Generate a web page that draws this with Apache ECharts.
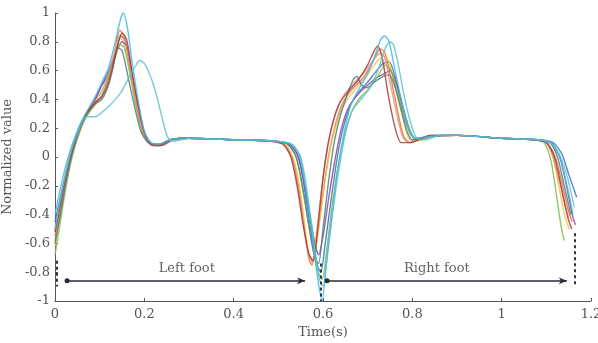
<!DOCTYPE html>
<html>
<head>
<meta charset="utf-8">
<script src="https://cdn.jsdelivr.net/npm/echarts@6/dist/echarts.min.js"></script>
<style>
  html, body { margin: 0; padding: 0; background: #fff; }
  #chart { width: 598px; height: 343px; }
</style>
</head>
<body>
<div id="chart"></div>
<script>
// 每条曲线：[时间(s), 归一化值]
const blueCurve = [[0,-0.45],[0.012,-0.28],[0.025,-0.1],[0.04,0.08],[0.055,0.21],[0.07,0.3],[0.09,0.4],[0.105,0.5],[0.12,0.6],[0.135,0.72],[0.148,0.84],[0.158,0.8],[0.17,0.6],[0.185,0.36],[0.2,0.16],[0.215,0.09],[0.235,0.09],[0.26,0.12],[0.3,0.13],[0.4,0.12],[0.49,0.11],[0.525,0.09],[0.545,0.0],[0.56,-0.25],[0.575,-0.55],[0.588,-0.76],[0.595,-0.8],[0.605,-0.6],[0.618,-0.3],[0.632,0.0],[0.645,0.2],[0.66,0.35],[0.68,0.45],[0.7,0.52],[0.72,0.6],[0.735,0.65],[0.748,0.66],[0.762,0.55],[0.778,0.36],[0.795,0.18],[0.81,0.12],[0.84,0.15],[0.9,0.15],[1.0,0.13],[1.08,0.12],[1.115,0.1],[1.135,0.02],[1.15,-0.12],[1.168,-0.28]];
const orangeCurve = [[0,-0.55],[0.012,-0.35],[0.025,-0.15],[0.04,0.05],[0.055,0.19],[0.07,0.29],[0.09,0.37],[0.105,0.42],[0.12,0.55],[0.133,0.72],[0.145,0.88],[0.155,0.84],[0.167,0.65],[0.18,0.42],[0.195,0.2],[0.21,0.1],[0.23,0.08],[0.26,0.12],[0.3,0.13],[0.4,0.12],[0.48,0.11],[0.51,0.09],[0.53,0.0],[0.545,-0.2],[0.558,-0.48],[0.568,-0.7],[0.575,-0.75],[0.585,-0.6],[0.6,-0.25],[0.615,0.05],[0.63,0.25],[0.645,0.38],[0.665,0.47],[0.69,0.55],[0.71,0.65],[0.728,0.75],[0.738,0.73],[0.75,0.58],[0.765,0.35],[0.78,0.15],[0.795,0.1],[0.82,0.13],[0.9,0.15],[1.0,0.13],[1.07,0.12],[1.1,0.1],[1.12,0.0],[1.135,-0.18],[1.15,-0.38],[1.158,-0.45]];
const yellowCurve = [[0,-0.62],[0.012,-0.4],[0.025,-0.18],[0.04,0.04],[0.055,0.18],[0.07,0.28],[0.09,0.36],[0.105,0.42],[0.12,0.55],[0.132,0.7],[0.143,0.83],[0.153,0.8],[0.165,0.62],[0.178,0.4],[0.195,0.18],[0.21,0.1],[0.23,0.09],[0.26,0.12],[0.3,0.13],[0.4,0.12],[0.48,0.11],[0.515,0.09],[0.535,-0.02],[0.55,-0.25],[0.562,-0.55],[0.57,-0.7],[0.577,-0.72],[0.588,-0.55],[0.603,-0.2],[0.618,0.08],[0.635,0.28],[0.65,0.38],[0.67,0.46],[0.695,0.55],[0.715,0.64],[0.735,0.7],[0.748,0.66],[0.762,0.48],[0.778,0.28],[0.792,0.13],[0.81,0.11],[0.84,0.14],[0.9,0.15],[1.0,0.13],[1.07,0.12],[1.1,0.1],[1.115,0.0],[1.128,-0.2],[1.142,-0.42],[1.152,-0.5]];
const purpleCurve = [[0,-0.5],[0.012,-0.32],[0.025,-0.12],[0.04,0.06],[0.055,0.2],[0.07,0.3],[0.09,0.4],[0.105,0.5],[0.118,0.56],[0.132,0.68],[0.15,0.8],[0.16,0.77],[0.172,0.58],[0.187,0.34],[0.202,0.15],[0.218,0.08],[0.238,0.08],[0.265,0.12],[0.3,0.13],[0.4,0.12],[0.49,0.11],[0.525,0.09],[0.545,0.0],[0.56,-0.22],[0.573,-0.45],[0.583,-0.62],[0.59,-0.68],[0.6,-0.55],[0.613,-0.28],[0.628,0.0],[0.643,0.22],[0.66,0.36],[0.68,0.44],[0.7,0.5],[0.72,0.55],[0.738,0.58],[0.75,0.6],[0.765,0.5],[0.78,0.32],[0.796,0.16],[0.812,0.12],[0.84,0.15],[0.9,0.15],[1.0,0.13],[1.08,0.12],[1.11,0.1],[1.13,0.0],[1.145,-0.2],[1.158,-0.4],[1.165,-0.47]];
const greenCurve = [[0,-0.68],[0.012,-0.45],[0.025,-0.2],[0.04,0.02],[0.055,0.17],[0.07,0.28],[0.09,0.37],[0.105,0.43],[0.12,0.55],[0.133,0.67],[0.145,0.78],[0.155,0.76],[0.167,0.6],[0.18,0.38],[0.196,0.17],[0.212,0.1],[0.232,0.09],[0.26,0.12],[0.3,0.13],[0.4,0.12],[0.49,0.11],[0.52,0.09],[0.54,0.0],[0.556,-0.25],[0.572,-0.55],[0.587,-0.78],[0.598,-0.85],[0.608,-0.65],[0.62,-0.35],[0.633,-0.08],[0.648,0.15],[0.665,0.32],[0.685,0.42],[0.705,0.48],[0.722,0.56],[0.74,0.64],[0.752,0.6],[0.767,0.45],[0.783,0.26],[0.8,0.14],[0.82,0.12],[0.85,0.15],[0.9,0.15],[1.0,0.13],[1.07,0.12],[1.095,0.1],[1.11,-0.02],[1.122,-0.25],[1.133,-0.48],[1.14,-0.58]];
const cyanCurve = [[0,-0.4],[0.012,-0.22],[0.025,-0.05],[0.04,0.1],[0.055,0.22],[0.07,0.31],[0.09,0.42],[0.105,0.52],[0.12,0.62],[0.135,0.8],[0.147,0.96],[0.153,1.0],[0.162,0.9],[0.173,0.65],[0.187,0.38],[0.2,0.18],[0.215,0.1],[0.235,0.09],[0.26,0.12],[0.3,0.13],[0.4,0.12],[0.49,0.11],[0.528,0.09],[0.548,0.0],[0.563,-0.25],[0.578,-0.6],[0.59,-0.88],[0.598,-1.0],[0.607,-0.75],[0.62,-0.4],[0.633,-0.08],[0.648,0.18],[0.662,0.36],[0.68,0.47],[0.7,0.58],[0.718,0.72],[0.73,0.82],[0.738,0.84],[0.748,0.8],[0.76,0.62],[0.775,0.4],[0.79,0.22],[0.805,0.13],[0.83,0.14],[0.9,0.15],[1.0,0.13],[1.08,0.12],[1.11,0.1],[1.13,0.0],[1.145,-0.18],[1.16,-0.4]];
const redCurve = [[0,-0.52],[0.012,-0.33],[0.025,-0.12],[0.04,0.06],[0.055,0.2],[0.07,0.3],[0.09,0.38],[0.105,0.42],[0.12,0.52],[0.135,0.7],[0.15,0.86],[0.16,0.82],[0.172,0.6],[0.186,0.36],[0.2,0.17],[0.215,0.09],[0.235,0.08],[0.26,0.12],[0.3,0.13],[0.4,0.12],[0.48,0.11],[0.51,0.09],[0.528,0.0],[0.542,-0.2],[0.556,-0.48],[0.568,-0.67],[0.578,-0.72],[0.588,-0.5],[0.598,-0.2],[0.608,0.03],[0.622,0.24],[0.638,0.38],[0.658,0.46],[0.68,0.54],[0.7,0.64],[0.715,0.74],[0.722,0.77],[0.732,0.7],[0.745,0.45],[0.76,0.22],[0.775,0.1],[0.795,0.1],[0.83,0.14],[0.9,0.15],[1.0,0.13],[1.07,0.12],[1.1,0.1],[1.118,0.0],[1.133,-0.2],[1.148,-0.42],[1.157,-0.5]];
const tealCurve = [[0,-0.5],[0.012,-0.3],[0.025,-0.1],[0.04,0.08],[0.055,0.2],[0.065,0.27],[0.075,0.28],[0.09,0.28],[0.105,0.31],[0.12,0.35],[0.135,0.4],[0.15,0.46],[0.165,0.55],[0.178,0.62],[0.19,0.67],[0.2,0.65],[0.215,0.55],[0.228,0.42],[0.24,0.27],[0.252,0.14],[0.265,0.11],[0.3,0.13],[0.4,0.12],[0.49,0.11],[0.53,0.09],[0.55,0.0],[0.565,-0.25],[0.58,-0.6],[0.592,-0.85],[0.6,-0.9],[0.61,-0.68],[0.622,-0.38],[0.635,-0.1],[0.65,0.16],[0.665,0.32],[0.685,0.4],[0.705,0.48],[0.725,0.62],[0.74,0.76],[0.75,0.8],[0.758,0.78],[0.768,0.65],[0.78,0.45],[0.795,0.25],[0.81,0.13],[0.83,0.12],[0.86,0.15],[0.9,0.15],[1.0,0.13],[1.08,0.12],[1.11,0.1],[1.132,0.0],[1.148,-0.15],[1.163,-0.35]];
const grayCurve = [[0,-0.6],[0.012,-0.4],[0.025,-0.17],[0.04,0.04],[0.055,0.19],[0.07,0.29],[0.09,0.37],[0.105,0.4],[0.12,0.5],[0.13,0.62],[0.14,0.76],[0.15,0.74],[0.162,0.58],[0.176,0.38],[0.192,0.18],[0.208,0.1],[0.228,0.08],[0.258,0.12],[0.3,0.13],[0.4,0.12],[0.49,0.11],[0.52,0.09],[0.54,0.0],[0.555,-0.22],[0.57,-0.5],[0.582,-0.7],[0.59,-0.74],[0.6,-0.5],[0.612,-0.18],[0.625,0.1],[0.64,0.3],[0.655,0.44],[0.668,0.54],[0.676,0.56],[0.686,0.5],[0.698,0.48],[0.715,0.52],[0.735,0.56],[0.748,0.57],[0.76,0.5],[0.774,0.34],[0.788,0.18],[0.8,0.12],[0.83,0.14],[0.9,0.15],[1.0,0.13],[1.08,0.12],[1.108,0.1],[1.125,0.0],[1.14,-0.2],[1.155,-0.4]];
const salmonCurve = [[0,-0.58],[0.012,-0.38],[0.025,-0.16],[0.04,0.05],[0.055,0.19],[0.07,0.3],[0.09,0.39],[0.105,0.46],[0.12,0.58],[0.133,0.72],[0.146,0.85],[0.156,0.82],[0.168,0.62],[0.182,0.38],[0.197,0.17],[0.212,0.09],[0.232,0.08],[0.26,0.12],[0.3,0.13],[0.4,0.12],[0.48,0.11],[0.512,0.09],[0.53,0.0],[0.545,-0.22],[0.558,-0.5],[0.568,-0.68],[0.576,-0.73],[0.586,-0.52],[0.598,-0.2],[0.612,0.1],[0.628,0.3],[0.645,0.42],[0.665,0.5],[0.69,0.58],[0.71,0.66],[0.727,0.72],[0.737,0.7],[0.75,0.52],[0.765,0.3],[0.78,0.13],[0.795,0.1],[0.83,0.14],[0.9,0.15],[1.0,0.13],[1.07,0.12],[1.1,0.1],[1.115,0.0],[1.13,-0.18],[1.143,-0.35],[1.15,-0.42]];

const curves = [blueCurve, orangeCurve, yellowCurve, purpleCurve, greenCurve, salmonCurve, grayCurve, redCurve, tealCurve, cyanCurve];
const curveColors = ['#3a72b8', '#e0743a', '#eec24a', '#8a4a98', '#86b84a', '#e8907a', '#4f7f86', '#a83a3a', '#5cc6cc', '#45b8e6'];

// 标注：箭头 y 值、左右脚区间、虚线、文字
const arrowY = -0.86;
const leftFoot = [0.027, 0.56];
const rightFoot = [0.609, 1.146];
const dashLines = [[0.004, -0.72, -0.9], [0.596, -0.74, -1.0], [1.164, -0.53, -0.9]];
const footLabels = [['Left foot', 0.295, -0.775], ['Right foot', 0.855, -0.775]];

const serif = "'DejaVu Serif', serif";
const chart = echarts.init(document.getElementById('chart'));

const series = curves.map((c, i) => ({
    type: 'line',
    data: c,
    smooth: 0.25,
    showSymbol: false,
    lineStyle: { width: 1.4, color: curveColors[i], opacity: 0.85 },
    z: 2
}));

// 箭头和虚线放在一个辅助系列的 markLine 里
series.push({
    type: 'line',
    data: [],
    markLine: {
        silent: true,
        animation: false,
        label: { show: false },
        lineStyle: { color: '#2a2a3a', width: 1.6, type: 'solid' },
        symbol: ['circle', 'arrow'],
        symbolSize: [5, 8],
        data: [
            [{ coord: [leftFoot[0], arrowY] }, { coord: [leftFoot[1], arrowY] }],
            [{ coord: [rightFoot[0], arrowY] }, { coord: [rightFoot[1], arrowY] }]
        ].concat(dashLines.map(d => [
            { coord: [d[0], d[1]], symbol: 'none', lineStyle: { type: [3, 3], width: 2, color: '#333' } },
            { coord: [d[0], d[2]], symbol: 'none' }
        ]))
    },
    z: 3
});

series.push({
    type: 'scatter',
    symbolSize: 0,
    data: footLabels.map(l => ({ name: l[0], value: [l[1], l[2]] })),
    label: {
        show: true,
        position: 'inside',
        formatter: p => p.name,
        fontFamily: serif,
        fontSize: 13,
        color: '#3a3a3a'
    },
    z: 4
});

const axisCommon = {
    axisLine: { show: true, onZero: false, lineStyle: { color: '#555', width: 1 } },
    axisTick: { show: true, inside: true, length: 3, lineStyle: { color: '#555' } },
    splitLine: { show: false },
    axisLabel: { fontFamily: serif, fontSize: 13, color: '#555' },
    nameTextStyle: { fontFamily: serif, fontSize: 13, color: '#555' }
};

chart.setOption({
    animation: false,
    grid: { left: 55, right: 7, top: 13, bottom: 42, containLabel: false, outerBoundsMode: 'none' },
    xAxis: Object.assign({}, axisCommon, {
        type: 'value', min: 0, max: 1.2, interval: 0.2,
        name: 'Time(s)', nameLocation: 'middle', nameGap: 21,
        axisLabel: Object.assign({}, axisCommon.axisLabel, { margin: 7 })
    }),
    yAxis: Object.assign({}, axisCommon, {
        type: 'value', min: -1, max: 1, interval: 0.2,
        name: 'Normalized value', nameLocation: 'middle', nameGap: 34,
        axisLabel: Object.assign({}, axisCommon.axisLabel, { margin: 5 })
    }),
    series: series
});

window.addEventListener('resize', () => chart.resize());
</script>
</body>
</html>
